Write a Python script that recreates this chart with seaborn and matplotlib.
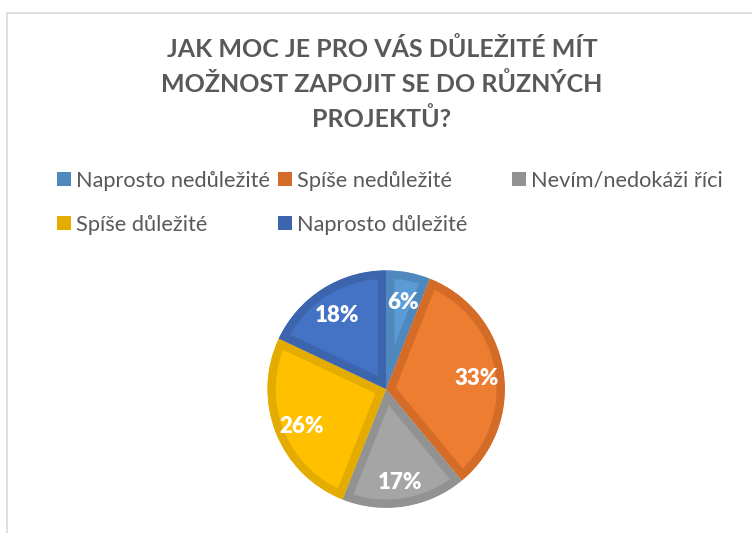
import matplotlib
matplotlib.use("Agg")
import matplotlib.pyplot as plt
from matplotlib.patches import Rectangle, Patch
import seaborn as sns

title = "JAK MOC JE PRO VÁS DŮLEŽITÉ MÍT\nMOŽNOST ZAPOJIT SE DO RŮZNÝCH\nPROJEKTŮ?"
categories = ["Naprosto nedůležité", "Spíše nedůležité", "Nevím/nedokáži říci",
              "Spíše důležité", "Naprosto důležité"]
shares = [6, 33, 17, 26, 18]
face_colors = ["#5B9BD5", "#ED7D31", "#A5A5A5", "#FFC000", "#4472C4"]
edge_colors = ["#4F88BD", "#D46C28", "#929292", "#E4AB00", "#3C65AE"]

sns.set_theme(style="white")
plt.rcParams['font.family'] = ['Lato', 'DejaVu Sans']

fig = plt.figure(figsize=(7.52, 5.33), dpi=100)
fig.patch.set_facecolor("white")

# chart frame, cut off on the right and at the bottom
fig.patches.append(Rectangle((7 / 752, -0.1), 1.2, 1.1 - 13 / 533,
                             transform=fig.transFigure, fill=False,
                             edgecolor="#D9D9D9", linewidth=1.2))

ax = fig.add_axes([0.354, 0.045, 0.319, 0.450])
wedges, texts, autotexts = ax.pie(
    shares, colors=face_colors, startangle=90, counterclock=False,
    autopct=lambda p: f"{p:.0f}%", pctdistance=0.77,
    wedgeprops=dict(linewidth=12, joinstyle="miter"),
    textprops=dict(color="white", fontsize=16, fontweight="heavy"))
ax.set_xlim(-1.01, 1.01)
ax.set_ylim(-1.01, 1.01)
ax.set_aspect("equal")
ax.axis("off")
# stroke only on the inside of each slice
for w, ec in zip(wedges, edge_colors):
    w.set_edgecolor(ec)
    w.set_clip_on(True)
    w.set_clip_path(w)
for t in autotexts:
    x, y = t.get_position()
    t.set_position((x, y - 0.03))

fig.text(0.508, 1 - 84 / 533, title, ha="center", va="center",
         fontsize=18, fontweight="bold", color="#595959", linespacing=1.55)

handles = [Patch(facecolor=ec, edgecolor="none") for ec in edge_colors]
leg_kw = dict(loc="upper left", frameon=False, fontsize=15.7, labelcolor="#595959",
              handlelength=0.64, handleheight=0.6, handletextpad=0.22,
              labelspacing=1.08, borderaxespad=0, borderpad=0)
order = [0, 3, 1, 4]
fig.legend([handles[i] for i in order], [categories[i] for i in order],
           ncol=2, columnspacing=0.4,
           bbox_to_anchor=(57 / 752, 1 - 171 / 533), **leg_kw)
fig.legend([handles[2]], [categories[2]],
           bbox_to_anchor=(512 / 752, 1 - 171 / 533), **leg_kw)

fig.savefig("out.png", dpi=100)
